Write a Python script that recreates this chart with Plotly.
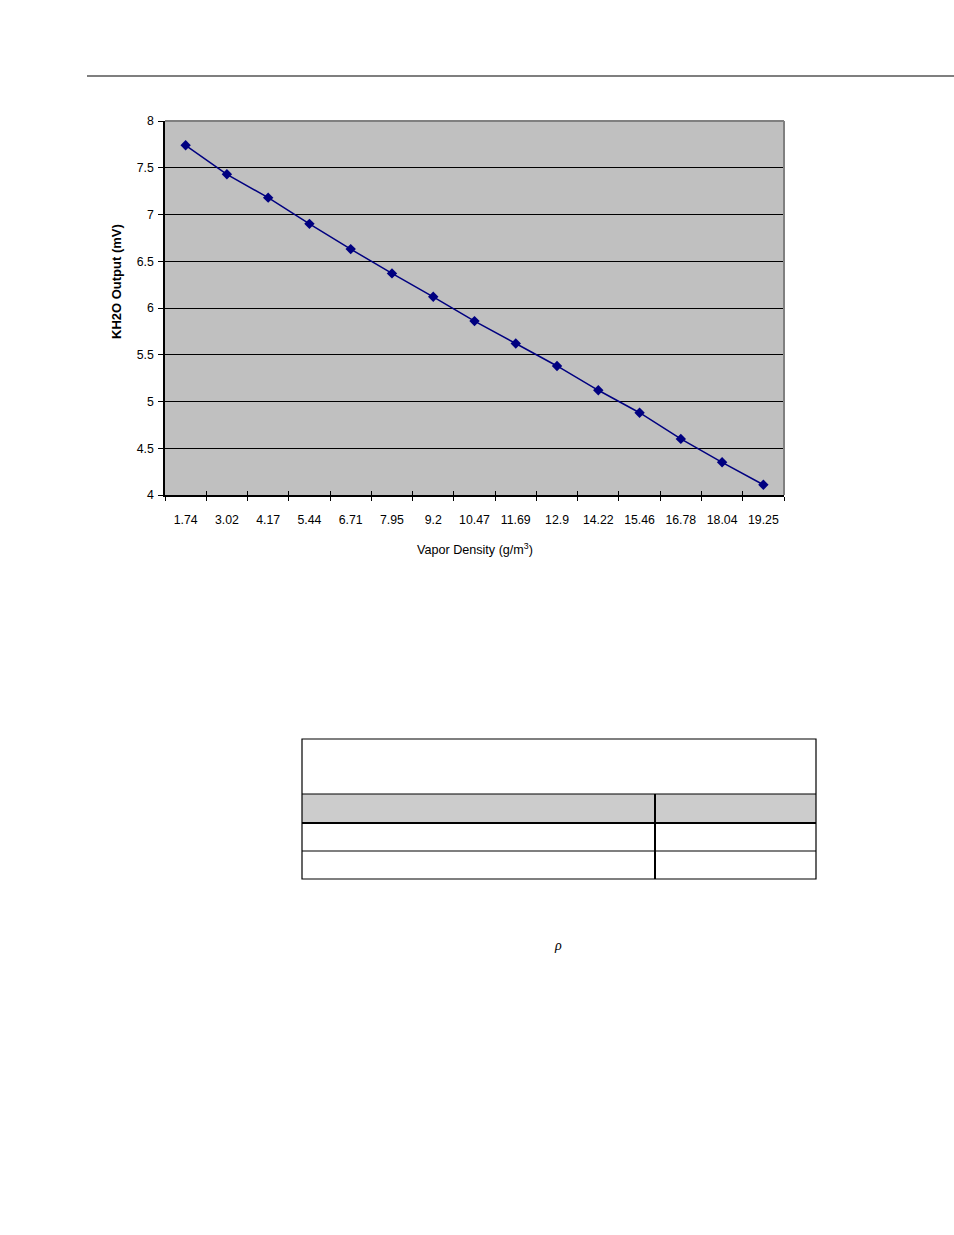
import plotly.graph_objects as go

W, H = 954, 1235

vapor_density = ["1.74", "3.02", "4.17", "5.44", "6.71", "7.95", "9.2", "10.47",
                 "11.69", "12.9", "14.22", "15.46", "16.78", "18.04", "19.25"]
kh2o_output = [7.74, 7.43, 7.18, 6.90, 6.63, 6.37, 6.12, 5.86,
               5.62, 5.38, 5.12, 4.88, 4.60, 4.35, 4.11]
y_ticks = [4, 4.5, 5, 5.5, 6, 6.5, 7, 7.5, 8]
y_tick_text = ["4", "4.5", "5", "5.5", "6", "6.5", "7", "7.5", "8"]

def px(x):
    return x / W

def py(y):
    return 1 - y / H

FONT = "Liberation Sans, Arial, sans-serif"
n = len(vapor_density)
xrange_ = [-0.5, n - 0.5]

fig = go.Figure()
fig.add_trace(go.Scatter(
    x=vapor_density, y=kh2o_output, mode="lines+markers",
    line=dict(color="#000080", width=1.5),
    marker=dict(symbol="diamond", size=8, color="#000080"),
    showlegend=False, hoverinfo="x+y",
))
fig.add_trace(go.Scatter(x=vapor_density, y=kh2o_output, xaxis="x2", mode="none",
                         showlegend=False, hoverinfo="skip"))

x0, x1, y0, y1 = 165, 784, 121, 495

fig.update_layout(
    width=W, height=H,
    margin=dict(l=0, r=0, t=0, b=0, pad=0, autoexpand=False),
    paper_bgcolor="white",
    plot_bgcolor="#C0C0C0",
    font=dict(family=FONT, size=12, color="black"),
    xaxis=dict(
        domain=[px(x0), px(x1)], type="category", automargin=False,
        range=xrange_, autorange=False,
        tickson="boundaries", ticks="outside", ticklen=4, tickcolor="black", tickwidth=1,
        showline=True, linecolor="black", linewidth=1.5,
        showgrid=False, zeroline=False, tickangle=0,
        ticklabelstandoff=12,
        tickfont=dict(family=FONT, size=12.3),
    ),
    xaxis2=dict(
        domain=[px(x0), px(x1)], type="category", overlaying="x", anchor="y",
        range=xrange_, autorange=False, automargin=False,
        tickson="boundaries", ticks="inside", ticklen=4, tickcolor="black", tickwidth=1,
        showticklabels=False, showgrid=False, zeroline=False, showline=False,
    ),
    yaxis=dict(
        domain=[py(y1), py(y0)], range=[4, 8], automargin=False,
        tickvals=y_ticks, ticktext=y_tick_text,
        ticks="outside", ticklen=5, tickcolor="black", tickwidth=1,
        showline=True, linecolor="black", linewidth=1.5,
        showgrid=True, gridcolor="black", gridwidth=1,
        zeroline=False,
        ticklabelstandoff=2,
        tickfont=dict(family=FONT, size=12.3),
    ),
    hovermode="closest",
)

shapes = []
shapes.append(dict(type="line", xref="paper", yref="paper",
                   x0=px(x0), x1=px(x1), y0=py(y0), y1=py(y0),
                   line=dict(color="#808080", width=2)))
shapes.append(dict(type="line", xref="paper", yref="paper",
                   x0=px(x1), x1=px(x1), y0=py(y0), y1=py(y1),
                   line=dict(color="#808080", width=2)))
shapes.append(dict(type="line", xref="paper", yref="paper",
                   x0=px(87), x1=px(954), y0=py(76), y1=py(76),
                   line=dict(color="black", width=1.2)))
tx0, tx1, tdiv = 302, 816, 655
shapes.append(dict(type="rect", xref="paper", yref="paper",
                   x0=px(tx0), x1=px(tx1), y0=py(794), y1=py(822),
                   fillcolor="#CCCCCC", line=dict(width=0), layer="below"))
shapes.append(dict(type="rect", xref="paper", yref="paper",
                   x0=px(tx0), x1=px(tx1), y0=py(739), y1=py(879),
                   line=dict(color="black", width=1.2)))
shapes.append(dict(type="line", xref="paper", yref="paper",
                   x0=px(tx0), x1=px(tx1), y0=py(794), y1=py(794),
                   line=dict(color="black", width=1.2)))
shapes.append(dict(type="line", xref="paper", yref="paper",
                   x0=px(tx0), x1=px(tx1), y0=py(823), y1=py(823),
                   line=dict(color="black", width=2.2)))
shapes.append(dict(type="line", xref="paper", yref="paper",
                   x0=px(tx0), x1=px(tx1), y0=py(851), y1=py(851),
                   line=dict(color="black", width=1.2)))
shapes.append(dict(type="line", xref="paper", yref="paper",
                   x0=px(tdiv), x1=px(tdiv), y0=py(794), y1=py(879),
                   line=dict(color="black", width=2)))
fig.update_layout(shapes=shapes)

fig.add_annotation(text="<b>KH2O Output (mV)</b>", xref="paper", yref="paper",
                   x=px(116), y=py(282), textangle=-90, showarrow=False,
                   xanchor="center", yanchor="middle",
                   font=dict(family=FONT, size=13, color="black"))
fig.add_annotation(text="Vapor Density (g/m<sup>3</sup>)", xref="paper", yref="paper",
                   x=px(475), y=py(549), showarrow=False,
                   xanchor="center", yanchor="middle",
                   font=dict(family=FONT, size=12.6, color="black"))
fig.add_annotation(text="<i>ρ</i>", xref="paper", yref="paper",
                   x=px(558), y=py(945), showarrow=False,
                   xanchor="center", yanchor="middle",
                   font=dict(family="Liberation Serif, Times New Roman, serif", size=14, color="black"))

fig.write_html("out.html",
               config={"displayModeBar": False},
               post_script="document.body.style.margin='0';document.body.style.overflow='hidden';")
